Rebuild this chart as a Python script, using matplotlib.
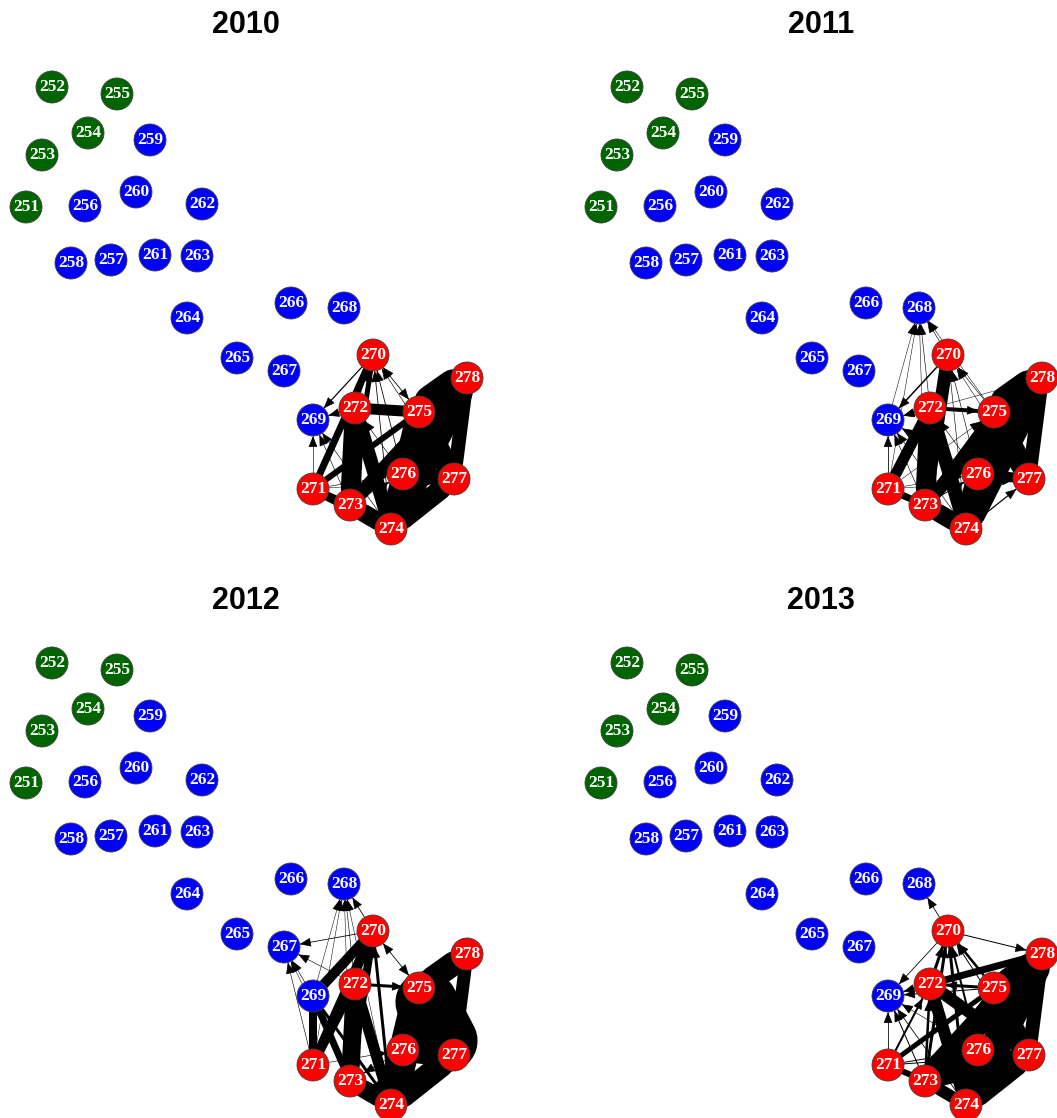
import matplotlib
matplotlib.use('Agg')
import matplotlib.pyplot as plt
import numpy as np

# node layout (same for every year), in layout units
node_ids = [251, 252, 253, 254, 255, 256, 257, 258, 259, 260, 261, 262, 263, 264,
            265, 266, 267, 268, 269, 270, 271, 272, 273, 274, 275, 276, 277, 278]
node_x = [26, 52, 42, 88, 117, 85, 111, 71, 150, 136, 155, 202, 197, 187,
          237, 291, 284, 344, 313, 373, 313, 355, 350, 391, 419, 403, 454, 467]
node_y = [207, 87, 155, 133, 94, 206, 260, 263, 140, 192, 255, 204, 256, 318,
          358, 303, 371, 308, 420, 355, 489, 408, 505, 529, 412, 474, 479, 378]
node_group = ['g'] * 5 + ['b'] * 14 + ['r'] * 9
group_colors = {'g': '#006400', 'b': '#0000FF', 'r': '#FF0000'}

years = ['2010', '2011', '2012', '2013']

# edges: (from, to, width in px, both directions?)
edges_2010 = [
    (278, 275, 36, 0), (278, 277, 14, 0), (278, 274, 26, 0), (278, 273, 14, 0),
    (275, 277, 22, 0), (275, 274, 24, 0), (277, 274, 20, 0), (276, 274, 18, 0),
    (273, 274, 18, 0), (272, 273, 20, 0), (272, 274, 14, 0), (272, 275, 11, 0),
    (270, 271, 7, 0), (271, 275, 6, 0), (271, 273, 7, 0), (276, 277, 16, 0),
    (271, 274, 9, 0), (270, 273, 5, 0),
    (270, 269, 1.2, 0), (272, 269, 1.0, 0), (271, 269, 0.6, 0), (273, 269, 0.6, 0),
    (274, 269, 0.6, 0), (276, 270, 0.8, 0), (273, 270, 0.8, 0), (274, 270, 0.8, 0),
    (277, 270, 0.6, 0), (276, 272, 0.6, 0), (275, 270, 0.8, 1), (271, 276, 0.6, 0),
    (271, 277, 0.5, 0), (273, 276, 0.5, 0), (272, 270, 1.5, 0),
]
edges_2011 = [
    (278, 275, 34, 0), (278, 277, 14, 0), (278, 274, 24, 0), (278, 273, 12, 0),
    (275, 277, 22, 0), (275, 274, 24, 0), (276, 274, 16, 0), (276, 277, 10, 0),
    (273, 274, 18, 0), (272, 273, 20, 0), (272, 274, 14, 0), (270, 273, 13, 0),
    (271, 272, 11, 0), (271, 273, 7, 0), (272, 275, 4, 0), (273, 275, 9, 0),
    (270, 269, 1.5, 0), (272, 269, 1.0, 0), (271, 269, 0.8, 0), (273, 269, 0.6, 0),
    (274, 269, 0.6, 0), (276, 269, 0.5, 0), (270, 268, 0.6, 0), (272, 268, 0.6, 0),
    (271, 268, 0.5, 0), (273, 268, 0.5, 0), (269, 268, 0.5, 0), (275, 268, 0.5, 0),
    (274, 277, 1.2, 0), (276, 270, 0.6, 0), (275, 270, 0.6, 0), (277, 270, 0.5, 0),
    (274, 270, 0.6, 0), (278, 269, 0.5, 0), (271, 276, 0.5, 0), (271, 277, 0.5, 0),
    (273, 270, 0.6, 0), (276, 272, 0.6, 0), (274, 272, 0.6, 0), (271, 275, 0.5, 0),
    (273, 276, 1.0, 0),
]
edges_2012 = [
    (278, 275, 24, 0), (278, 277, 13, 0), (275, 277, 62, 0), (275, 274, 30, 0),
    (277, 274, 24, 0), (276, 274, 16, 0), (273, 274, 18, 0), (272, 273, 18, 0),
    (272, 274, 11, 0), (270, 269, 10, 0), (270, 271, 10, 0), (270, 273, 8, 0),
    (269, 271, 8, 0), (269, 273, 7, 0), (272, 271, 8, 0), (272, 275, 3, 0),
    (274, 270, 3, 0), (269, 274, 3, 0), (276, 277, 24, 0),
    (270, 267, 0.8, 0), (270, 268, 0.8, 0), (269, 267, 0.6, 0), (271, 267, 0.6, 0),
    (272, 267, 0.6, 0), (273, 267, 0.5, 0), (272, 268, 0.6, 0), (271, 268, 0.5, 0),
    (269, 268, 0.5, 0), (273, 268, 0.5, 0), (274, 268, 0.5, 0), (275, 270, 0.8, 1),
    (274, 277, 0.6, 0), (276, 273, 0.8, 0), (271, 276, 0.6, 0), (273, 270, 1.0, 0),
]
edges_2013 = [
    (278, 275, 20, 0), (278, 277, 14, 0), (278, 274, 30, 0), (278, 273, 24, 0),
    (275, 277, 18, 0), (277, 274, 22, 0), (277, 273, 18, 0), (276, 274, 16, 0),
    (273, 276, 14, 0), (272, 274, 12, 0), (272, 277, 12, 0), (273, 274, 12, 0),
    (271, 275, 5, 0), (272, 278, 7, 0), (275, 272, 3, 0), (271, 273, 6, 0),
    (273, 270, 3, 0), (274, 270, 3, 0), (272, 270, 3, 0), (275, 270, 2.5, 0),
    (276, 270, 2, 0), (271, 272, 2, 0), (273, 272, 2.5, 0), (274, 272, 2, 0),
    (270, 278, 1.0, 0), (270, 268, 0.8, 0), (270, 269, 0.8, 0),
    (271, 269, 0.8, 0), (273, 269, 1.0, 0), (274, 269, 0.8, 0), (276, 269, 0.6, 0),
    (272, 269, 1.5, 0), (275, 269, 1.0, 0), (271, 276, 1.0, 0), (271, 277, 1.0, 0),
    (277, 270, 1.0, 0), (275, 273, 5, 0),
]
all_edges = [edges_2010, edges_2011, edges_2012, edges_2013]

W, H = 1057, 1118
R = 16  # node radius, px
fig = plt.figure(figsize=(W / 100, H / 100), dpi=100)

pos = {n: (x, y) for n, x, y in zip(node_ids, node_x, node_y)}


def head(ax, tip, u):
    ax.annotate('', xy=tip, xytext=(tip[0] - u[0] * 8, tip[1] - u[1] * 8),
                arrowprops=dict(arrowstyle='-|>,head_length=0.7,head_width=0.28',
                                lw=0.5, color='black', shrinkA=0, shrinkB=0,
                                mutation_scale=10),
                annotation_clip=False, zorder=2)


for k, (year, edges) in enumerate(zip(years, all_edges)):
    r, c = divmod(k, 2)
    left, top, w, h = c * 575, r * 576 + 40, 492, 502
    ax = fig.add_axes([left / W, 1 - (top + h) / H, w / W, h / H])
    ax.set_xlim(0, w)
    ax.set_ylim(40 + h, 40)
    ax.axis('off')
    ax.set_title(year, fontsize=22, fontweight='bold', family='Liberation Sans', pad=5)

    # thick edges first, thin edges on top
    for a, b, wd, mutual in sorted(edges, key=lambda e: -e[2]):
        x0, y0 = pos[a]
        x1, y1 = pos[b]
        d = np.hypot(x1 - x0, y1 - y0)
        u = ((x1 - x0) / d, (y1 - y0) / d)
        p0 = (x0 + u[0] * R, y0 + u[1] * R)
        p1 = (x1 - u[0] * R, y1 - u[1] * R)
        cap = 'round' if wd > 4 else 'butt'
        ax.plot([p0[0], p1[0]], [p0[1], p1[1]], color='black', lw=wd * 0.72,
                solid_capstyle=cap, zorder=1, clip_on=False)
        if wd <= 4:
            head(ax, p1, u)
            if mutual:
                head(ax, p0, (-u[0], -u[1]))

    ax.scatter(node_x, node_y, s=(2 * R * 0.72) ** 2,
               c=[group_colors[g] for g in node_group],
               edgecolors='#404040', linewidths=0.6, zorder=3, clip_on=False)
    for n, x, y in zip(node_ids, node_x, node_y):
        ax.text(x, y, str(n), color='white', fontsize=12.5, fontweight='bold',
                family='Liberation Serif', ha='center', va='center', zorder=4,
                clip_on=False)

fig.savefig('out.png', dpi=100)
